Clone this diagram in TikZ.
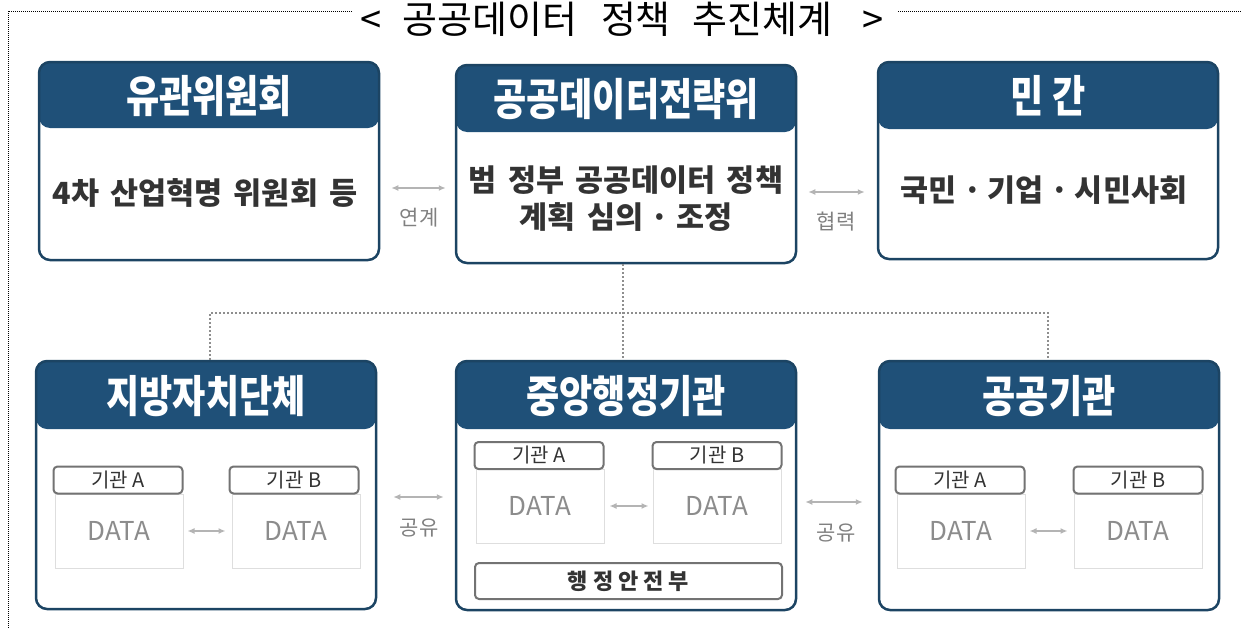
\documentclass[tikz,border=0pt]{standalone}
\usepackage{fontspec}
\setmainfont{Noto Sans CJK KR}
\newfontfamily\hfont[FakeStretch=0.82]{Noto Sans CJK KR}
\newfontfamily\bfont[WordSpace=1.6]{Noto Sans CJK KR}
\usetikzlibrary{arrows.meta,calc}
\definecolor{hdr}{HTML}{1F5078}
\definecolor{bord}{HTML}{1C4463}
\definecolor{txt}{HTML}{333333}
\definecolor{lblc}{HTML}{808080}
\definecolor{datac}{HTML}{8C8C8C}
\definecolor{arrc}{HTML}{B4B4B4}
\definecolor{dotc}{HTML}{8E8E8E}
\definecolor{tabc}{HTML}{737373}
\definecolor{datab}{HTML}{DEDEDE}
\begin{document}
\begin{tikzpicture}[x=1pt,y=-1pt,
  bigbox/.style={draw=bord, line width=2.5pt, rounded corners=11pt, fill=white, inner sep=0pt, minimum width=340pt},
  hdrfill/.style={path picture={\fill[hdr] (path picture bounding box.north west) rectangle ([yshift=-#1]path picture bounding box.north east);}},
  hdrtext/.style={font=\hfont\bfseries\fontsize{44}{44}\selectfont, text=white, inner sep=0pt},
  bodytext/.style={font=\bfont\bfseries\fontsize{30.5}{37}\selectfont, text=txt, align=center, inner sep=0pt},
  tabbox/.style={draw=tabc, line width=2pt, rounded corners=4pt, fill=white, minimum width=129pt, minimum height=27pt, inner sep=0pt, font=\fontsize{20}{20}\selectfont, text=txt},
  databox/.style={draw=datab, line width=1pt, fill=white, minimum width=128pt, minimum height=74pt, inner sep=0pt, font=\fontsize{26}{26}\selectfont, text=datac},
  arr/.style={draw=arrc, line width=1.6pt, {Latex[length=7pt,width=6pt]}-{Latex[length=7pt,width=6pt]}},
  lbl/.style={font=\fontsize{21}{21}\selectfont, text=lblc, inner sep=0pt},
  dotline/.style={draw=dotc, line width=2pt, dash pattern=on 2pt off 2pt},
  frame/.style={draw=black, line width=1pt, dash pattern=on 1pt off 1pt}
]
\useasboundingbox (0,0) rectangle (1242,629);
% frame
\draw[frame] (352,11) -- (8,11) -- (8,629);
\draw[frame] (898,11) -- (1242,11);
\node[anchor=base, font=\fontsize{38}{38}\selectfont, inner sep=0pt] (title) at (622,33) {<\hspace{21pt}공공데이터\hspace{24pt}정책\hspace{22pt}추진체계\hspace{30pt}>};

% top row
\node[bigbox, hdrfill=66pt, minimum height=198pt] (b1) at (209,161) {};
\node[bigbox, hdrfill=67pt, minimum height=198pt] (b2) at (626,164) {};
\node[bigbox, hdrfill=67pt, minimum height=197pt] (b3) at (1048,160.5) {};
\node[hdrtext] (h1) at ($(b1.north)+(0,35)$) {유관위원회};
\node[hdrtext] (h2) at ($(b2.north)+(0,35)$) {공공데이터전략위};
\node[hdrtext] (h3) at ($(b3.north)+(0,35)$) {민 간};
\node[bodytext] (t1) at (205,193) {4차 산업혁명 위원회 등};
\node[bodytext] (t2) at (626,199) {범 정부 공공데이터 정책\\계획 심의\hspace{-4pt} · \hspace{-4pt}조정};
\node[bodytext] (t3) at (1044,190) {국민\hspace{-5pt} · \hspace{-5pt}기업\hspace{-5pt} · \hspace{-5pt}시민사회};

% bottom row
\node[bigbox, hdrfill=68pt, minimum height=248pt] (b4) at (206,485) {};
\node[bigbox, hdrfill=68pt, minimum height=249pt] (b5) at (626,485.5) {};
\node[bigbox, hdrfill=68pt, minimum height=249pt] (b6) at (1049,485.5) {};
\node[hdrtext] (h4) at ($(b4.north)+(0,36)$) {지방자치단체};
\node[hdrtext] (h5) at ($(b5.north)+(0,36)$) {중앙행정기관};
\node[hdrtext] (h6) at ($(b6.north)+(0,36)$) {공공기관};

% inner boxes
\node[databox] (dA4) at (119,531) {DATA};
\node[databox] (dB4) at (296,531) {DATA};
\node[tabbox] (tA4) at (118,480) {기관 A};
\node[tabbox] (tB4) at (294,480) {기관 B};
\node[databox] (dA5) at (540,506) {DATA};
\node[databox] (dB5) at (717,506) {DATA};
\node[tabbox] (tA5) at (539,455.5) {기관 A};
\node[tabbox] (tB5) at (717,455.5) {기관 B};
\node[tabbox, minimum width=307pt, minimum height=36pt, font=\bfseries\fontsize{22}{22}\selectfont] (mois) at (628.5,581) {행 정 안 전 부};
\node[databox] (dA6) at (961,531) {DATA};
\node[databox] (dB6) at (1138,531) {DATA};
\node[tabbox] (tA6) at (960,480) {기관 A};
\node[tabbox] (tB6) at (1138,480) {기관 B};

\draw[arr, shorten <=4pt, shorten >=6pt] (dA4) -- (dB4);
\draw[arr, shorten <=5pt, shorten >=4pt] (dA5) -- (dB5);
\draw[arr, shorten <=4pt, shorten >=6pt] (dA6) -- (dB6);

% connectors between big boxes
\coordinate (r1) at (0,188);
\coordinate (r2) at (0,192);
\coordinate (r3) at (0,497);
\coordinate (r4) at (0,502);
\draw[arr, shorten <=11pt, shorten >=9pt] (b1.east |- r1) -- (b2.west |- r1);
\draw[arr, shorten <=11pt, shorten >=12pt] (b2.east |- r2) -- (b3.west |- r2);
\draw[arr, shorten <=16pt, shorten >=11pt] (b4.east |- r3) -- (b5.west |- r3);
\draw[arr, shorten <=8pt, shorten >=15pt] (b5.east |- r4) -- (b6.west |- r4);
\node[lbl] (l1) at (419,218) {연계};
\node[lbl] (l2) at (836,222) {협력};
\node[lbl] (l3) at (419,528) {공유};
\node[lbl] (l4) at (836,533) {공유};

% dotted hierarchy
\coordinate (hy) at (0,313);
\draw[dotline] ([xshift=-3pt]b2.south) -- ([xshift=-3pt]b5.north);
\draw[dotline] ([xshift=4pt]b4.north) -- ([xshift=4pt]b4.north |- hy) -- ([xshift=-1pt]b6.north |- hy) -- ([xshift=-1pt]b6.north);
\end{tikzpicture}
\end{document}
